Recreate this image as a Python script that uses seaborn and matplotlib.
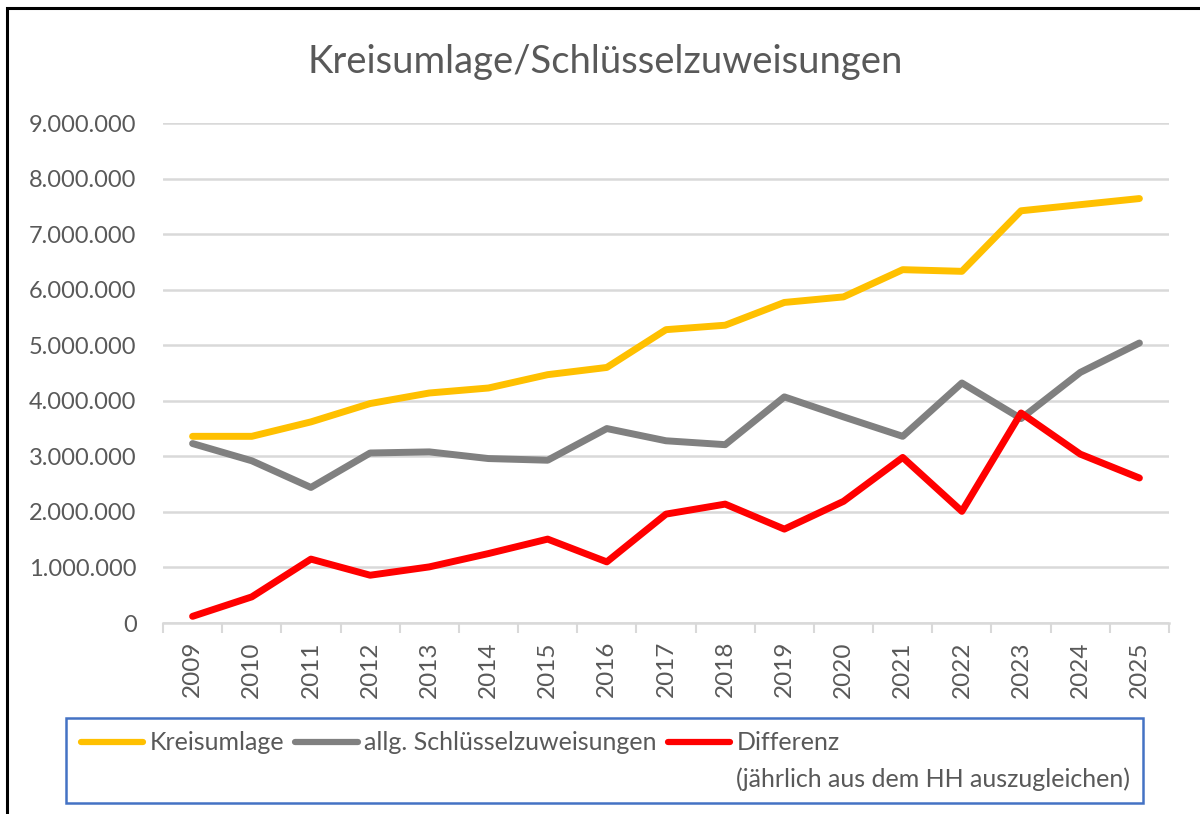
import pandas as pd
import matplotlib.pyplot as plt
import seaborn as sns
from matplotlib.lines import Line2D
from matplotlib.patches import Rectangle
from matplotlib.ticker import FuncFormatter

# --- Data ---
years = list(range(2009, 2026))
kreisumlage = [3360000, 3360000, 3620000, 3950000, 4140000, 4230000, 4470000, 4600000,
               5280000, 5360000, 5770000, 5870000, 6360000, 6330000, 7420000, 7530000, 7640000]
schluessel = [3230000, 2920000, 2440000, 3060000, 3080000, 2960000, 2930000, 3500000,
              3280000, 3210000, 4070000, 3710000, 3360000, 4320000, 3680000, 4510000, 5040000]
differenz = [120000, 470000, 1150000, 860000, 1010000, 1250000, 1510000, 1100000,
             1960000, 2140000, 1690000, 2190000, 2980000, 2010000, 3780000, 3040000, 2610000]

series_names = ['Kreisumlage', 'allg. Schlüsselzuweisungen', 'Differenz']
colors = {'Kreisumlage': '#FFC000', 'allg. Schlüsselzuweisungen': '#808080', 'Differenz': '#FF0000'}

df = pd.DataFrame({'Jahr': years * 3,
                   'Wert': kreisumlage + schluessel + differenz,
                   'Reihe': [n for n in series_names for _ in years]})

# --- Style ---
sns.set_theme(style="white")
plt.rcParams['font.family'] = ['Lato', 'DejaVu Sans']
text_col = '#595959'
grid_col = '#D9D9D9'

fig = plt.figure(figsize=(12, 8.14), dpi=100)
ax = fig.add_axes([163 / 1200, 1 - 623 / 814, (1169 - 163) / 1200, 500 / 814])

sns.lineplot(data=df, x='Jahr', y='Wert', hue='Reihe', palette=colors, ax=ax,
             linewidth=5, solid_capstyle='round', solid_joinstyle='round', legend=False)

# axes
ax.set_xlim(2008.5, 2025.5)
ax.set_ylim(0, 9000000)
ax.set_yticks(range(0, 9000001, 1000000))
ax.yaxis.set_major_formatter(FuncFormatter(lambda v, p: f"{int(v):,}".replace(',', '.')))
ax.set_xticks(years)
ax.set_xticklabels([str(y) for y in years], rotation=90)
ax.set_xticks([y - 0.5 for y in years] + [2025.5], minor=True)
ax.tick_params(axis='x', which='major', length=0, pad=13, labelsize=17.5, labelcolor=text_col)
ax.tick_params(axis='x', which='minor', length=7, width=1.5, color=grid_col, direction='out', bottom=True)
ax.tick_params(axis='y', length=0, pad=19, labelsize=17, labelcolor=text_col)
ax.set_xlabel('')
ax.set_ylabel('')
ax.grid(axis='y', color=grid_col, linewidth=1.8)
ax.set_axisbelow(True)
for side in ['top', 'left', 'right']:
    ax.spines[side].set_visible(False)
ax.spines['bottom'].set_color(grid_col)
ax.spines['bottom'].set_linewidth(1.8)
ax.spines['bottom'].set_zorder(0.5)

# title
fig.text(605 / 1200, 1 - 62 / 814, 'Kreisumlage/Schlüsselzuweisungen',
         ha='center', va='center', fontsize=27.5, color=text_col)

# outer frame (top and left visible in the reference crop)
fig.patches.append(Rectangle((7 / 1200, -0.1), 1.2, 1 - 8 / 814 + 0.1, transform=fig.transFigure,
                             fill=False, edgecolor='black', linewidth=2.2))

# legend box
fig.patches.append(Rectangle((66 / 1200, 1 - 803 / 814), (1143 - 66) / 1200, 85 / 814,
                             transform=fig.transFigure, fill=False, edgecolor='#4472C4', linewidth=1.8))
handles = [Line2D([0], [0], color=colors[n], linewidth=4.5, solid_capstyle='round') for n in series_names]
leg = fig.legend(handles, series_names, loc='center left', bbox_to_anchor=(68 / 1200, 1 - 743 / 814),
                 ncol=3, frameon=False, fontsize=18, handlelength=2.5, handletextpad=0.25,
                 columnspacing=0.45, borderpad=0, labelcolor=text_col)

fig.canvas.draw()
bb = leg.get_texts()[2].get_window_extent()
fig.text(bb.x0 / 1200, 1 - 779 / 814, '(jährlich aus dem HH auszugleichen)',
         ha='left', va='center', fontsize=18, color=text_col)

fig.savefig('out.png', dpi=100)
